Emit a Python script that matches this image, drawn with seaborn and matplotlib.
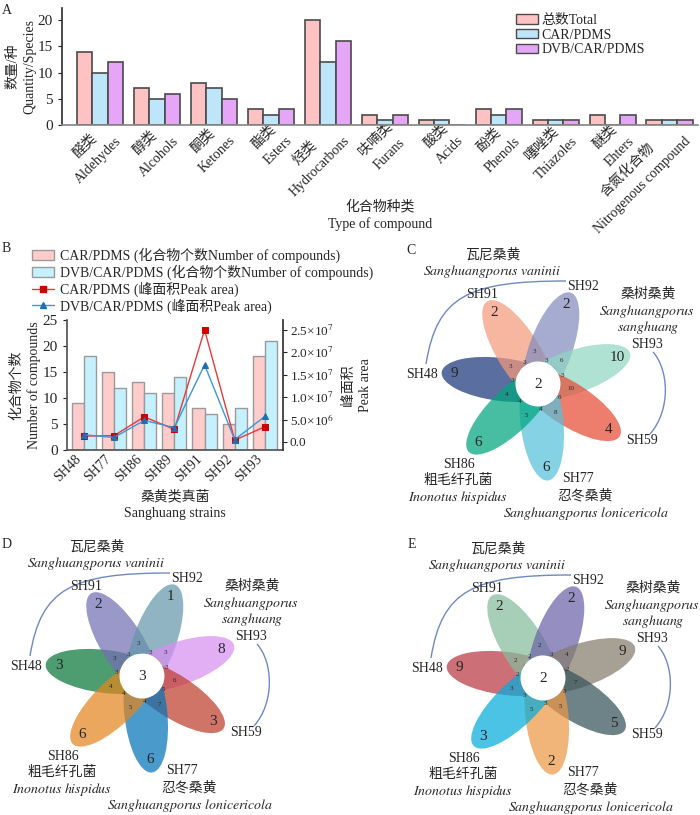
import numpy as np
import pandas as pd
import matplotlib
matplotlib.use("Agg")
import matplotlib.pyplot as plt
import matplotlib.colors as mcolors
import seaborn as sns
from matplotlib.patches import Ellipse, Circle, Patch, PathPatch
from matplotlib.lines import Line2D
from matplotlib.path import Path
from matplotlib.ticker import FuncFormatter

# ── data: panel A ─────────────────────────────────────────────────────────────
compound_cn = ["醛类", "醇类", "酮类", "酯类", "烃类", "呋喃类", "酸类",
               "酚类", "噻唑类", "醚类", "含氮化合物"]
compound_en = ["Aldehydes", "Alcohols", "Ketones", "Esters", "Hydrocarbons",
               "Furans", "Acids", "Phenols", "Thiazoles", "Ehters",
               "Nitrogenous compound"]
n_total = [14, 7, 8, 3, 20, 2, 1, 3, 1, 2, 1]
n_car_a = [10, 5, 7, 2, 12, 1, 1, 2, 1, 0, 1]
n_dvb_a = [12, 6, 5, 3, 16, 2, 0, 3, 1, 2, 1]
fibers_a = ["总数Total", "CAR/PDMS", "DVB/CAR/PDMS"]

# ── data: panel B ─────────────────────────────────────────────────────────────
strains = ["SH48", "SH77", "SH86", "SH89", "SH91", "SH92", "SH93"]
n_car_b = [9, 15, 13, 11, 8, 5, 18]
n_dvb_b = [18, 12, 11, 14, 7, 8, 21]
area_car = [1.3e6, 1.4e6, 5.6e6, 2.8e6, 2.5e7, 0.4e6, 3.4e6]
area_dvb = [1.6e6, 1.0e6, 4.8e6, 3.2e6, 1.72e7, 0.5e6, 5.7e6]
legend_b = ["CAR/PDMS (化合物个数Number of compounds)",
            "DVB/CAR/PDMS (化合物个数Number of compounds)",
            "CAR/PDMS (峰面积Peak area)",
            "DVB/CAR/PDMS (峰面积Peak area)"]

# ── data: flower diagrams (petals clockwise from SH48) ────────────────────────
petals = ["SH48", "SH91", "SH92", "SH93", "SH59", "SH77", "SH86"]
c_unique = [9, 2, 2, 10, 4, 6, 6]
c_on = [3, 3, 3, 3, 6, 4, 4]
c_between = [3, 3, 6, 10, 8, 5, 4]
c_core = 2
d_unique = [3, 2, 1, 8, 3, 6, 6]
d_on = [3, 3, 3, 3, 5, 4, 4]
d_between = [3, 3, 3, 6, 7, 5, 4]
d_core = 3
e_unique = [9, 2, 2, 9, 5, 2, 3]
e_on = [2, 2, 3, 2, 3, 3, 3]
e_between = [2, 2, 4, 7, 5, 5, 3]
e_core = 2

c_colors = ["#5A6E9F", "#F8B6A0", "#A5ADD0", "#B0E2D4", "#EE7E6E", "#85D2E5", "#3DBFA3"]
d_colors = ["#4E9E72", "#9B97C9", "#90B5C2", "#E2AEF5", "#D07468", "#4A9ACB", "#EAA85E"]
e_colors = ["#CD7078", "#A7CFB8", "#968FC0", "#A7A096", "#6E8488", "#F1B47A", "#4CC4E6"]

# ── style ─────────────────────────────────────────────────────────────────────
sns.set_theme(style="ticks")
plt.rcParams["font.family"] = ["Liberation Serif", "Noto Sans CJK SC"]
plt.rcParams["mathtext.fontset"] = "stix"
plt.rcParams["axes.unicode_minus"] = False
FS = 10
INK = "#222222"

fig = plt.figure(figsize=(7, 8.15), dpi=100)

# ── A. grouped bars ──────────────────────────────────────────────────────────
pal_a = ["#FFC2C2", "#BEE6FA", "#E6A6F8"]
xlab_a = [f"{c}\n{e}" for c, e in zip(compound_cn, compound_en)]
df_a = pd.DataFrame({"compound": xlab_a * 3,
                     "fiber": np.repeat(fibers_a, len(xlab_a)),
                     "count": n_total + n_car_a + n_dvb_a})

axA = fig.add_axes([62 / 700, 1 - 125 / 815, 636 / 700, 117 / 815])
sns.barplot(data=df_a, x="compound", y="count", hue="fiber", palette=pal_a,
            width=0.81, saturation=1, errorbar=None, edgecolor="#4a4a4a",
            linewidth=1.2, legend=False, ax=axA)
axA.set_xlim(-0.67, 10.5)
axA.set_ylim(0, 22.3)
axA.set_yticks([0, 5, 10, 15, 20])
axA.set_xticks(range(len(xlab_a)))
axA.set_xticklabels(xlab_a, rotation=45, ha="right", va="top",
                    rotation_mode="anchor", multialignment="center",
                    fontsize=FS, linespacing=1.75)
axA.tick_params(axis="x", length=0, pad=-4)
axA.tick_params(axis="y", length=3, labelsize=11, width=0.8, color=INK)
for s in ["top", "right"]:
    axA.spines[s].set_visible(False)
axA.spines["left"].set_color("#333333")
axA.spines["bottom"].set_color("#888888")
axA.set_ylabel("数量/种\nQuantity/Species", fontsize=FS, linespacing=1.35)
axA.yaxis.set_label_coords(-0.041, 0.5)
axA.set_xlabel("化合物种类\nType of compound", fontsize=FS, va="top", linespacing=1.35)
axA.xaxis.set_label_coords(0.5, -0.635)
fig.legend(handles=[Patch(facecolor=c, edgecolor="#4a4a4a", lw=1) for c in pal_a],
           labels=fibers_a, loc="upper left", bbox_to_anchor=(516 / 700, 1 - 14 / 815),
           frameon=False, fontsize=FS, handlelength=1.6, handleheight=0.65,
           handletextpad=0.25, labelspacing=0.12, borderpad=0, borderaxespad=0)

# ── B. bars + peak-area lines ────────────────────────────────────────────────
pal_b = ["#FFCCCC", "#C5F1FF"]
df_b = pd.DataFrame({"strain": strains * 2,
                     "fiber": np.repeat(["CAR/PDMS", "DVB/CAR/PDMS"], len(strains)),
                     "n": n_car_b + n_dvb_b})
axB = fig.add_axes([67 / 700, 1 - 450 / 815, 216 / 700, 130 / 815])
sns.barplot(data=df_b, x="strain", y="n", hue="fiber", palette=pal_b, width=0.8,
            saturation=1, errorbar=None, edgecolor="#9a9a9a", linewidth=1,
            legend=False, ax=axB)
axB.set_xlim(-0.56, 6.6)
axB.set_ylim(0, 25)
axB.set_yticks([0, 5, 10, 15, 20, 25])
axB.set_xticks(range(len(strains)))
axB.set_xticklabels(strains, rotation=45, ha="right", fontsize=FS)
axB.tick_params(axis="x", length=0, pad=2)
axB.tick_params(axis="y", length=3, labelsize=11, width=0.8, color=INK)
for s in ["top", "right"]:
    axB.spines[s].set_visible(False)
for s in ["left", "bottom"]:
    axB.spines[s].set_color("#555555")
axB.set_ylabel("化合物个数\nNumber of compounds", fontsize=FS, linespacing=1.35)
axB.yaxis.set_label_coords(-0.12, 0.5)
axB.set_xlabel("桑黄类真菌\nSanghuang strains", fontsize=FS, va="top", linespacing=1.35)
axB.xaxis.set_label_coords(0.5, -0.31)

axB2 = axB.twinx()
sns.lineplot(x=np.arange(len(strains)), y=area_car, color="#E8383A", lw=1,
             marker="s", markersize=4, markeredgecolor="#D00000",
             markerfacecolor="#D00000", ax=axB2)
sns.lineplot(x=np.arange(len(strains)), y=area_dvb, color="#3C96D8", lw=1,
             marker="^", markersize=4.5, markeredgecolor="#1F6FB5",
             markerfacecolor="#1F6FB5", ax=axB2)
axB2.set_ylim(-1.8e6, 2.72e7)
axB2.set_yticks([0, 5e6, 1e7, 1.5e7, 2e7, 2.5e7])


def sci(v, _):
    if v == 0:
        return "0.0"
    e = int(np.floor(np.log10(v)))
    return f"{v / 10 ** e:.1f}×10$^{{{e}}}$"


axB2.yaxis.set_major_formatter(FuncFormatter(sci))
axB2.tick_params(axis="y", length=3, labelsize=9.5, width=0.8, color=INK, pad=2)
for s in ["top", "left", "bottom"]:
    axB2.spines[s].set_visible(False)
axB2.spines["right"].set_color("#333333")
axB2.set_ylabel("峰面积\nPeak area", fontsize=FS, linespacing=1.35)
axB2.yaxis.set_label_coords(1.275, 0.5)

hb = [Patch(facecolor=pal_b[0], edgecolor="#9a9a9a", lw=1),
      Patch(facecolor=pal_b[1], edgecolor="#9a9a9a", lw=1),
      Line2D([], [], color="#E8383A", lw=1, marker="s", markersize=4,
             markerfacecolor="#D00000", markeredgecolor="#D00000"),
      Line2D([], [], color="#3C96D8", lw=1, marker="^", markersize=4.5,
             markerfacecolor="#1F6FB5", markeredgecolor="#1F6FB5")]
fig.legend(handles=hb, labels=legend_b, loc="upper left",
           bbox_to_anchor=(32 / 700, 1 - 248 / 815), frameon=False, fontsize=FS,
           handlelength=1.6, handleheight=0.75, handletextpad=0.4,
           labelspacing=0.1, borderpad=0, borderaxespad=0)

# ── C/D/E. flower diagrams ───────────────────────────────────────────────────
ANGLES = 173 - np.arange(7) * 360 / 7
SEMI_A, SEMI_B, DIST, R_CORE = 60, 21.5, 37, 22.5
ALPHA = 0.72
TEXT_POS = {
    "瓦尼桑黄": (-45, 129), "$Sanghuangporus\\ vaninii$": (-46, 112),
    "SH91": (-56, 89), "SH92": (45, 97),
    "桑树桑黄": (110, 90), "$Sanghuangporus$": (109, 73), "$sanghuang$": (110, 57),
    "SH93": (109, 40), "SH48": (-116, 10), "SH59": (104, -57),
    "SH86": (-79, -80), "粗毛纤孔菌": (-80, -96), "$Inonotus\\ hispidus$": (-80, -113),
    "SH77": (40, -95), "忍冬桑黄": (47, -112),
    "$Sanghuangporus\\ lonicericola$": (48, -129),
}


def under_white(hex_obs):
    rgb = np.array(mcolors.to_rgb(hex_obs))
    return tuple(np.clip((rgb - (1 - ALPHA)) / ALPHA, 0, 1))


def bezier(ax, pts):
    codes = [Path.MOVETO, Path.CURVE4, Path.CURVE4, Path.CURVE4]
    ax.add_patch(PathPatch(Path(pts, codes), fill=False, edgecolor="#6F89C4", lw=1))


def flower(rect, xlim, ylim, colors, unique, on, between, core, letter, letter_xy):
    ax = fig.add_axes(rect)
    ax.set_xlim(xlim)
    ax.set_ylim(ylim)
    ax.axis("off")
    rad = np.deg2rad(ANGLES)
    for c, a, t in zip(colors, ANGLES, rad):
        ax.add_patch(Ellipse((DIST * np.cos(t), DIST * np.sin(t)), 2 * SEMI_A,
                             2 * SEMI_B, angle=a, facecolor=under_white(c),
                             alpha=ALPHA, lw=0))
    ax.add_patch(Circle((0, 0), R_CORE, facecolor="white", lw=0, zorder=3))
    mid = rad - np.deg2rad(360 / 14)
    for k in range(7):
        ax.text(84 * np.cos(rad[k]), 84 * np.sin(rad[k]), str(unique[k]),
                ha="center", va="center", fontsize=11, zorder=4)
        ax.text(25.5 * np.cos(rad[k]), 25.5 * np.sin(rad[k]), str(on[k]),
                ha="center", va="center", fontsize=5, zorder=4)
        ax.text(33 * np.cos(mid[k]), 33 * np.sin(mid[k]), str(between[k]),
                ha="center", va="center", fontsize=5, zorder=4)
    ax.text(0, 0, str(core), ha="center", va="center", fontsize=11, zorder=4)
    for s, (x, y) in TEXT_POS.items():
        ax.text(x, y, s, ha="center", va="center", fontsize=FS)
    bezier(ax, [(-112, 20), (-101, 88), (-70, 103), (28, 103)])
    bezier(ax, [(115, 32), (131, 14), (133, -26), (112, -50)])
    fig.text(letter_xy[0] / 700, 1 - letter_xy[1] / 815, letter, fontsize=FS,
             ha="left", va="center")


flower([0.5, 1 - 520 / 815, 0.5, 280 / 815], (-188, 162), (-136, 144),
       c_colors, c_unique, c_on, c_between, c_core, "C", (406, 250))
flower([0.0, 0.0, 0.5, 285 / 815], (-142, 208), (-139, 146),
       d_colors, d_unique, d_on, d_between, d_core, "D", (2, 545))
flower([0.5, 0.0, 0.5, 285 / 815], (-193, 157), (-137, 148),
       e_colors, e_unique, e_on, e_between, e_core, "E", (408, 545))

fig.text(2 / 700, 1 - 10 / 815, "A", fontsize=FS, ha="left", va="center")
fig.text(2 / 700, 1 - 248 / 815, "B", fontsize=FS, ha="left", va="center")

fig.savefig("out.png", dpi=100)
